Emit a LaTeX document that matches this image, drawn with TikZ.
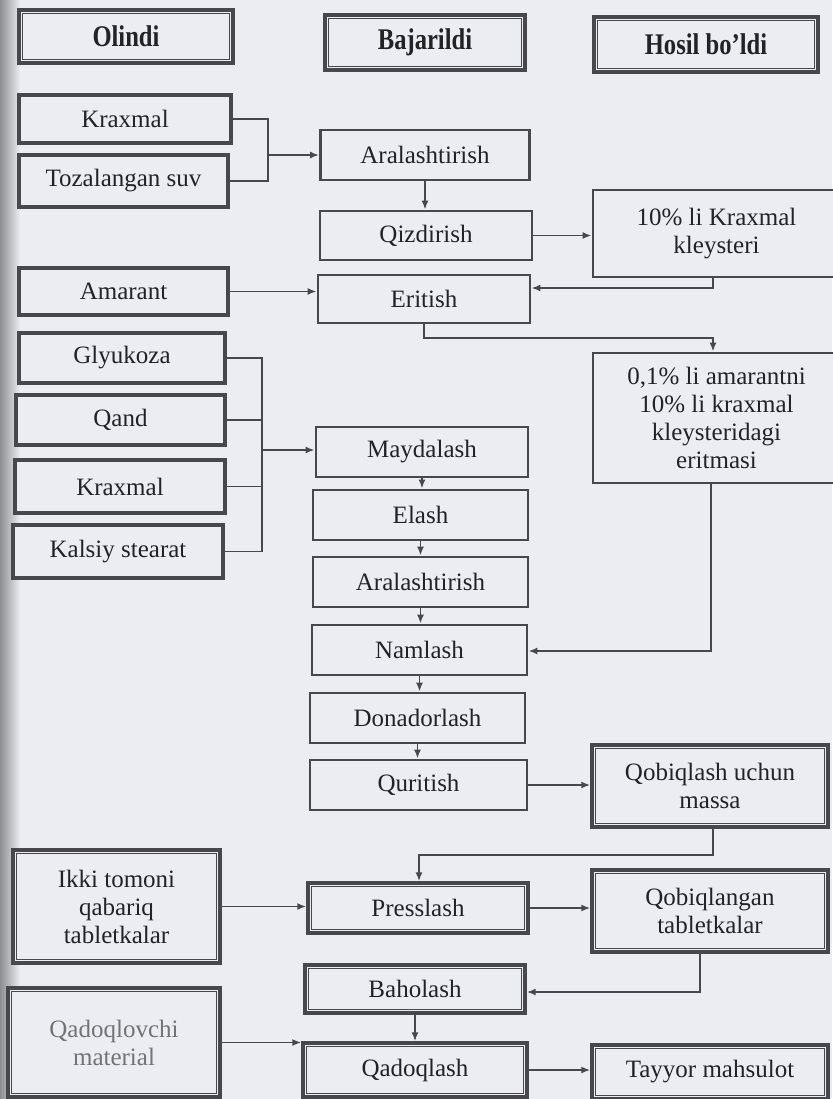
\documentclass[tikz,border=0pt]{standalone}
\usepackage{fontspec}
\usepackage{graphicx}
\setmainfont{Liberation Serif}
\newfontfamily\hdfont{Liberation Serif}[FakeStretch=0.82]
\usetikzlibrary{arrows.meta,calc}
\definecolor{bg}{RGB}{236,237,242}
\definecolor{bordc}{RGB}{72,72,76}
\definecolor{txt}{RGB}{35,35,38}
\tikzset{
  box/.style={draw=bordc, line width=2.8pt, fill=bg, text=txt, inner sep=0pt, align=center},
  lbox/.style={box, line width=3.4pt},
  innerline/.style={draw=bordc, line width=0.9pt},
  conn/.style={draw=bordc, line width=1.8pt},
  arr/.style={conn, -{Latex[length=9pt,width=7pt]}},
  hd/.style={lbox, font=\hdfont\bfseries\fontsize{30}{34}\selectfont},
}
\begin{document}
\begin{tikzpicture}[x=1pt,y=-1pt,font=\fontsize{25}{28}\selectfont]
\fill[bg] (0,0) rectangle (832,1099);
\useasboundingbox (0,0) rectangle (832,1099);
\shade[left color=black!40!bg, right color=bg] (0,0) rectangle (20,1099);

% headers
\node[hd, minimum width=214pt, minimum height=53pt] (hO) at (126,36.5) {Olindi};
\node[hd, minimum width=200pt, minimum height=55pt] (hB) at (425,42.5) {Bajarildi};
\node[hd, minimum width=224pt, minimum height=55pt] (hH) at (706,44.5) {Hosil bo’ldi};

% column 1
\node[lbox, minimum width=212pt, minimum height=48pt] (kr1) at (125,119) {Kraxmal};
\node[lbox, minimum width=209pt, minimum height=52pt] (suv) at (123.5,181) {Tozalangan suv};
\node[lbox, minimum width=209pt, minimum height=47pt] (amar) at (123.5,291.5) {Amarant};
\node[lbox, minimum width=206pt, minimum height=50pt] (gly) at (122,358) {Glyukoza};
\node[lbox, minimum width=209pt, minimum height=50pt] (qand) at (120.5,420) {Qand};
\node[lbox, minimum width=210pt, minimum height=53pt] (kr2) at (120,486.5) {Kraxmal};
\node[lbox, minimum width=210pt, minimum height=53pt] (kal) at (118,551.5) {Kalsiy stearat};
\node[lbox, minimum width=207pt, minimum height=113pt] (ikki) at (116.5,906.5) {Ikki tomoni\\qabariq\\tabletkalar};
\node[lbox, minimum width=212pt, minimum height=109pt, text=black!55] (qmat) at (114,1042.5) {Qadoqlovchi\\material};

% column 2
\node[box, minimum width=209pt, minimum height=50pt] (ara1) at (425,155) {Aralashtirish};
\node[box, minimum width=212pt, minimum height=49pt] (qiz) at (426,235.5) {Qizdirish};
\node[box, minimum width=212pt, minimum height=48pt] (eri) at (424,299) {Eritish};
\node[box, minimum width=212pt, minimum height=50pt] (may) at (422,452) {Maydalash};
\node[box, minimum width=215pt, minimum height=50pt] (ela) at (420.5,515) {Elash};
\node[box, minimum width=215pt, minimum height=50pt] (ara2) at (420.5,582) {Aralashtirish};
\node[box, minimum width=215pt, minimum height=50pt] (nam) at (419.5,650) {Namlash};
\node[box, minimum width=215pt, minimum height=50pt] (don) at (417.5,718) {Donadorlash};
\node[box, minimum width=217pt, minimum height=50pt] (qur) at (418.5,785) {Quritish};
\node[lbox, minimum width=220pt, minimum height=50pt] (pre) at (418,908) {Presslash};
\node[lbox, minimum width=220pt, minimum height=48pt] (bah) at (415,989) {Baholash};
\node[lbox, minimum width=224pt, minimum height=54pt] (qad) at (415,1070) {Qadoqlash};

% column 3
\node[box, minimum width=247pt, minimum height=87pt] (kle) at (716.5,233.5) {10\% li Kraxmal\\kleysteri};
\node[box, minimum width=247pt, minimum height=130pt] (eri01) at (716.5,418) {0,1\% li amarantni\\10\% li kraxmal\\kleysteridagi\\eritmasi};
\node[lbox, minimum width=236pt, minimum height=82pt] (qob) at (710,786) {Qobiqlash uchun\\massa};
\node[lbox, minimum width=236pt, minimum height=82pt] (qtab) at (710,911) {Qobiqlangan\\tabletkalar};
\node[lbox, minimum width=236pt, minimum height=54pt] (tay) at (710,1072) {Tayyor mahsulot};

% inner lines of double-framed boxes
\foreach \n in {hO,hB,hH,ikki,qmat,pre,bah,qad,qob,qtab,tay}
  \draw[innerline] ([xshift=5pt,yshift=-5pt]\n.north west) rectangle ([xshift=-5pt,yshift=5pt]\n.south east);

% connectors
\coordinate (b1) at (268,155);
\draw[conn] (kr1.east) -| (b1) |- (suv.east);
\draw[arr] (b1) -- (b1 -| ara1.west);
\draw[arr] (ara1.south) -- (ara1.south |- qiz.north);
\draw[arr] (qiz.east) -- (qiz.east -| kle.west);
\coordinate (c1) at (713,288);
\draw[arr] (kle.south -| c1) -- (c1) -- (c1 -| eri.east);
\draw[arr] (amar.east) -- (amar.east -| eri.west);
\coordinate (c2) at (713,338);
\draw[arr] (eri.south) |- (c2) -- (c2 |- eri01.north);

\coordinate (b2) at (262,450);
\draw[conn] (gly.east) -| (b2) |- (kal.east);
\draw[conn] (qand.east) -- (qand.east -| b2);
\draw[conn] (kr2.east) -- (kr2.east -| b2);
\draw[arr] (b2) -- (b2 -| may.west);

\draw[arr] (may.south) -- (may.south |- ela.north);
\draw[arr] (ela.south) -- (ela.south |- ara2.north);
\draw[arr] (ara2.south) -- (ara2.south |- nam.north);
\draw[arr] (nam.south) -- (nam.south |- don.north);
\draw[arr] (don.south) -- (don.south |- qur.north);

\coordinate (c3) at (711,651);
\draw[arr] (eri01.south -| c3) -- (c3) -- (c3 -| nam.east);

\draw[arr] (qur.east) -- (qur.east -| qob.west);
\coordinate (c4) at (713,855);
\coordinate (c5) at (419,855);
\draw[arr] (qob.south -| c4) -- (c4) -- (c5) -- (c5 |- pre.north);
\draw[arr] (ikki.east) -- (ikki.east -| pre.west);
\draw[arr] (pre.east) -- (pre.east -| qtab.west);
\coordinate (c6) at (700,992);
\draw[arr] (qtab.south -| c6) -- (c6) -- (c6 -| bah.east);
\draw[arr] (bah.south) -- (bah.south |- qad.north);
\draw[arr] (qmat.east) -- (qmat.east -| qad.west);
\draw[arr] (qad.east) -- (qad.east -| tay.west);
\end{tikzpicture}
\end{document}
